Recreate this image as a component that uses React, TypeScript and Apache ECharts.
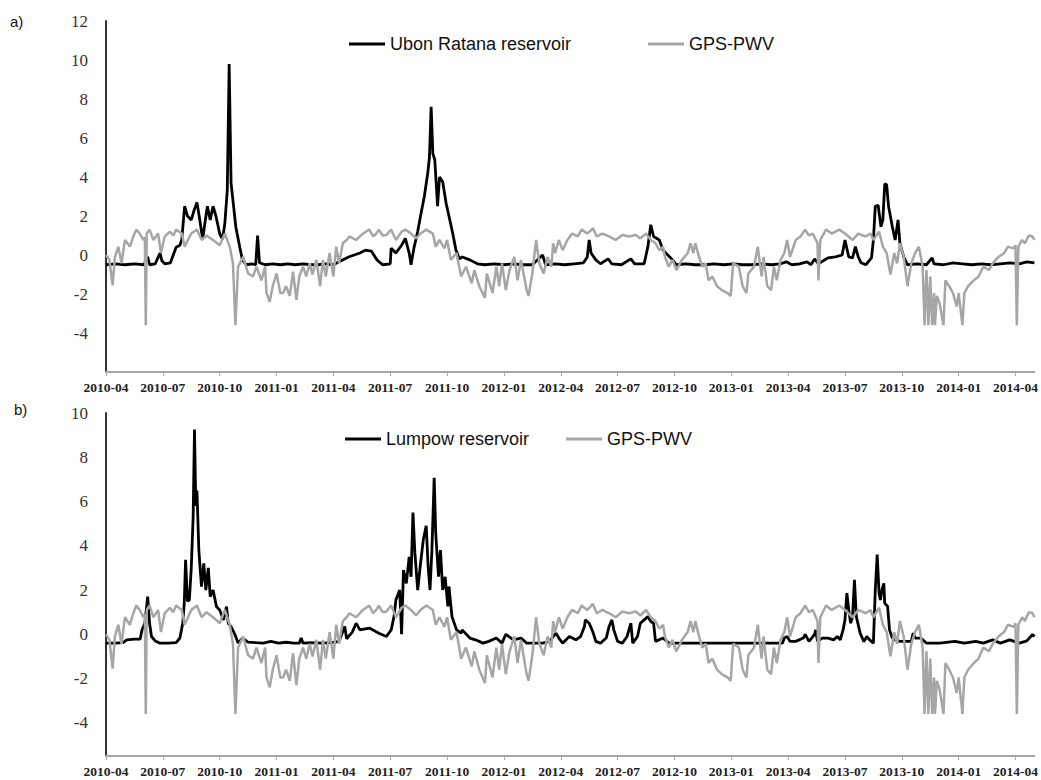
import React, { useEffect, useRef } from "react";
import * as echarts from "echarts";

// x = months since 2010-04-01
const xTicks = [0, 3, 6, 9, 12, 15, 18, 21, 24, 27, 30, 33, 36, 39, 42, 45, 48];
const yTicksA = [-4, -2, 0, 2, 4, 6, 8, 10, 12];
const yTicksB = [-4, -2, 0, 2, 4, 6, 8, 10];

const gpsPwv = [
  [0, 0], [0.18, -0.25], [0.35, -1.55], [0.47, -0.1], [0.65, 0.43], [0.82, -0.43], [1.0, 0.77], [1.26, 0.43],
  [1.44, 0.95], [1.6, 1.3], [1.78, 1.1], [1.97, 0.77], [2.05, 0.9], [2.1, -3.6], [2.15, 1.1], [2.3, 1.3],
  [2.5, 0.77], [2.75, 1.1], [2.9, 0.1], [3.1, 0.95], [3.37, 1.2], [3.55, 1.0], [3.7, 1.3], [4.0, 1.1], [4.15, 0.43],
  [4.5, 1.1], [4.8, 1.3], [5.05, 0.77], [5.3, 1.0], [5.65, 0.77], [6.0, 0.5], [6.27, 1.1], [6.53, 0.43],
  [6.7, -0.43], [6.83, -3.6], [6.97, -0.6], [7.24, -0.1], [7.5, -0.95], [7.76, -1.1], [7.94, -0.6], [8.2, -1.3],
  [8.4, -0.6], [8.47, -1.95], [8.64, -2.4], [8.8, -1.6], [9.0, -0.95], [9.2, -1.95], [9.35, -1.95], [9.5, -1.6],
  [9.7, -2.1], [9.87, -0.85], [10.05, -2.3], [10.2, -1.1], [10.4, -0.6], [10.57, -1.1], [10.75, -0.43],
  [10.9, -1.0], [11.1, -0.25], [11.3, -1.6], [11.45, -0.25], [11.6, -1.1], [11.8, 0.1], [12.0, -1.1],
  [12.15, 0.43], [12.3, -0.43], [12.5, 0.6], [12.7, 0.77], [12.85, 0.95], [13.2, 0.77], [13.56, 1.1],
  [13.9, 1.3], [14.1, 0.95], [14.26, 1.1], [14.4, 1.3], [14.6, 1.0], [14.8, 1.03], [15.05, 1.3], [15.3, 0.77],
  [15.6, 1.2], [15.8, 1.3], [16.1, 1.1], [16.37, 0.85], [16.6, 1.1], [16.9, 1.3], [17.25, 1.1], [17.4, 0.43],
  [17.6, 0.77], [17.86, 0.34], [18.0, 0.77], [18.2, -0.25], [18.5, 0.1], [18.74, -1.1], [19.0, -0.6],
  [19.3, -1.45], [19.44, -0.77], [19.7, -1.6], [20.0, -2.2], [20.1, -0.95], [20.4, -1.95], [20.6, -0.6],
  [20.75, -1.6], [20.9, -0.43], [21.1, -1.8], [21.3, -0.77], [21.55, -0.1], [21.72, -1.3], [21.9, -0.25],
  [22.2, -1.8], [22.3, -2.1], [22.5, -0.95], [22.7, 0.77], [22.87, -0.43], [23.1, -0.95], [23.3, -0.1],
  [23.5, -0.6], [23.6, 0.6], [23.7, 0.1], [23.9, 0.77], [24.1, 0.25], [24.35, 0.77], [24.6, 1.1], [24.9, 0.95],
  [25.1, 1.3], [25.4, 1.1], [25.7, 1.37], [25.9, 0.95], [26.2, 1.1], [26.55, 0.95], [26.9, 0.77], [27.25, 1.03],
  [27.6, 0.95], [27.96, 1.03], [28.2, 0.85], [28.5, 1.1], [28.75, 0.77], [29.0, 0.6], [29.2, 0.25], [29.4, 0.43],
  [29.5, -0.1], [29.7, -0.6], [29.9, -0.25], [30.1, -0.77], [30.4, -0.25], [30.7, 0.1], [30.85, 0.6], [31.0, 0.1],
  [31.1, 0.6], [31.3, -0.1], [31.47, -0.6], [31.65, -0.43], [31.8, -1.3], [32.0, -1.1], [32.25, -1.6],
  [32.5, -1.8], [32.8, -1.95], [32.97, -2.1], [33.1, -0.43], [33.4, -0.6], [33.6, -1.6], [33.8, -1.95],
  [33.9, -0.95], [34.2, -0.6], [34.4, 0.43], [34.6, -1.1], [34.7, -0.1], [34.9, -1.6], [35.1, -1.8],
  [35.25, -0.6], [35.4, -1.3], [35.6, -0.25], [35.8, 0.1], [35.95, 0.77], [36.1, -0.1], [36.4, 0.77],
  [36.65, 0.95], [36.9, 1.3], [37.1, 1.0], [37.3, 1.1], [37.55, 0.6], [37.6, -1.3], [37.7, 0.77], [38.0, 1.3],
  [38.3, 1.1], [38.7, 1.3], [39.0, 1.1], [39.4, 0.77], [39.7, 1.1], [40.1, 0.95], [40.35, 1.1], [40.5, 0.77],
  [40.8, 1.2], [41.0, 0.43], [41.2, 0.1], [41.4, -1.0], [41.6, 0.1], [41.75, -0.43], [41.9, 0.6], [42.1, -0.1],
  [42.3, -1.6], [42.5, -0.43], [42.7, 0.1], [42.9, 0.43], [43.1, -0.6], [43.2, -3.6], [43.3, -0.77],
  [43.4, -3.6], [43.5, -1.1], [43.6, -3.6], [43.7, -1.95], [43.75, -3.6], [43.85, -2.1], [44.0, -2.5],
  [44.2, -3.6], [44.3, -1.3], [44.5, -1.6], [44.7, -1.95], [44.9, -2.65], [45.0, -1.95], [45.2, -3.6],
  [45.3, -1.95], [45.5, -1.6], [45.8, -1.3], [46.05, -1.1], [46.3, -0.6], [46.6, -0.77], [46.8, -0.43],
  [47.1, -0.1], [47.4, 0.1], [47.6, 0.43], [47.9, 0.34], [48.0, 0.5], [48.07, -3.6], [48.15, 0.43],
  [48.35, 0.77], [48.5, 0.6], [48.7, 1.0], [48.9, 0.95], [49.0, 0.77],
];

const ubonRatana = [
  [0, -0.5], [0.5, -0.45], [1.0, -0.5], [1.5, -0.45], [2.0, -0.5], [2.2, -0.1], [2.3, -0.5], [2.6, -0.45],
  [2.85, 0.1], [2.95, -0.3], [3.1, -0.45], [3.4, -0.4], [3.7, 0.4], [3.9, 0.5], [4.0, 0.8], [4.15, 2.5],
  [4.3, 2.0], [4.5, 1.8], [4.65, 2.3], [4.8, 2.7], [4.95, 1.8], [5.1, 0.8], [5.2, 1.5], [5.35, 2.5], [5.5, 1.8],
  [5.65, 2.5], [5.8, 2.0], [6.0, 1.1], [6.15, 0.8], [6.27, 1.6], [6.4, 3.3], [6.5, 9.8], [6.6, 3.7], [6.7, 2.8],
  [6.85, 1.45], [7.06, 0.4], [7.2, -0.25], [7.4, -0.5], [7.7, -0.45], [7.9, -0.5], [8.0, 1.0], [8.1, -0.4],
  [8.4, -0.5], [8.8, -0.45], [9.2, -0.5], [9.6, -0.45], [10.0, -0.5], [10.4, -0.45], [10.8, -0.5], [11.2, -0.5],
  [11.6, -0.45], [12.0, -0.5], [12.3, -0.35], [12.8, -0.1], [13.4, 0.1], [13.7, 0.25], [14.0, 0.2],
  [14.3, -0.25], [14.6, -0.5], [15.0, -0.45], [15.05, 0.35], [15.3, 0.1], [15.6, 0.5], [15.8, 0.85], [16.0, 0.1],
  [16.1, -0.5], [16.25, 0.35], [16.45, 1.2], [16.6, 2.0], [16.8, 3.0], [16.98, 4.2], [17.07, 5.0], [17.16, 7.6],
  [17.25, 5.2], [17.35, 4.9], [17.5, 2.5], [17.6, 4.0], [17.77, 3.75], [17.95, 2.65], [18.1, 2.0], [18.3, 1.1],
  [18.47, 0.25], [18.65, -0.2], [18.8, -0.1], [19.2, -0.25], [19.6, -0.45], [20.0, -0.5], [20.5, -0.45],
  [21.0, -0.5], [21.5, -0.45], [22.0, -0.5], [22.5, -0.5], [23.04, 0.0], [23.2, -0.5], [23.7, -0.45],
  [24.2, -0.5], [24.7, -0.45], [25.2, -0.4], [25.4, -0.1], [25.5, 0.77], [25.6, 0.1], [25.85, -0.25],
  [26.1, -0.45], [26.5, -0.2], [26.7, -0.45], [27.2, -0.5], [27.7, -0.2], [27.9, -0.45], [28.4, -0.45],
  [28.6, 0.43], [28.75, 1.55], [28.9, 0.95], [29.2, 0.77], [29.4, 0.25], [29.9, -0.25], [30.1, -0.5],
  [30.6, -0.45], [31.1, -0.5], [31.6, -0.5], [32.1, -0.45], [32.6, -0.5], [33.1, -0.45], [33.6, -0.5],
  [34.1, -0.5], [34.6, -0.45], [35.1, -0.5], [35.6, -0.45], [35.9, -0.35], [36.2, -0.5], [36.6, -0.45],
  [37.0, -0.35], [37.2, -0.5], [37.4, -0.2], [37.6, -0.45], [38.1, -0.15], [38.5, -0.1], [38.85, 0.0],
  [39.0, 0.77], [39.2, -0.1], [39.4, -0.15], [39.55, 0.43], [39.7, -0.1], [39.85, -0.4], [40.1, -0.5],
  [40.4, -0.15], [40.5, 0.77], [40.6, 2.5], [40.75, 2.55], [40.9, 1.45], [41.0, 1.8], [41.1, 3.65], [41.2, 3.6],
  [41.3, 2.5], [41.5, 1.45], [41.65, 0.77], [41.8, 1.8], [41.9, 0.6], [42.1, -0.1], [42.3, -0.5], [42.8, -0.45],
  [43.3, -0.5], [43.6, -0.15], [43.7, -0.45], [44.2, -0.5], [44.7, -0.4], [45.2, -0.45], [45.7, -0.5],
  [46.2, -0.45], [46.7, -0.5], [47.2, -0.45], [47.7, -0.4], [48.2, -0.45], [48.6, -0.35], [49.0, -0.4],
];

const lumpow = [
  [0, -0.4], [0.5, -0.4], [0.9, -0.38], [1.1, -0.25], [1.5, -0.22], [1.8, -0.22], [1.9, 0.2], [2.05, 0.5],
  [2.2, 1.7], [2.3, 0.5], [2.4, -0.1], [2.6, -0.3], [2.85, -0.4], [3.3, -0.4], [3.7, -0.38], [3.9, -0.17],
  [4.05, 0.5], [4.13, 1.4], [4.2, 3.37], [4.3, 1.5], [4.4, 1.55], [4.5, 3.0], [4.6, 5.3], [4.67, 9.25],
  [4.74, 5.8], [4.8, 6.5], [4.9, 3.8], [5.04, 2.15], [5.16, 3.2], [5.27, 2.0], [5.4, 3.0], [5.5, 1.7],
  [5.65, 2.0], [5.83, 1.25], [6.0, 1.1], [6.2, 0.65], [6.36, 1.25], [6.45, 0.5], [6.6, 0.35], [6.8, 0.0],
  [6.97, -0.4], [7.2, -0.17], [7.5, -0.35], [7.9, -0.38], [8.3, -0.4], [8.7, -0.32], [9.1, -0.4], [9.5, -0.36],
  [9.9, -0.4], [10.2, -0.4], [10.3, -0.17], [10.4, -0.4], [10.9, -0.38], [11.4, -0.4], [11.9, -0.38],
  [12.3, -0.32], [12.6, 0.35], [12.7, -0.2], [13.0, 0.1], [13.2, 0.5], [13.4, 0.2], [13.9, 0.28], [14.4, 0.05],
  [14.8, -0.1], [15.05, 0.2], [15.2, 0.8], [15.3, 1.55], [15.5, 2.0], [15.6, 0.0], [15.7, 2.9], [15.85, 2.3],
  [16.0, 3.5], [16.1, 2.6], [16.2, 5.5], [16.3, 3.7], [16.45, 2.0], [16.6, 3.2], [16.75, 4.3], [16.9, 4.9],
  [17.0, 3.07], [17.1, 2.0], [17.2, 3.8], [17.32, 7.07], [17.4, 4.6], [17.55, 2.6], [17.65, 3.8], [17.77, 2.0],
  [17.9, 2.6], [18.04, 1.26], [18.1, 2.16], [18.26, 0.8], [18.5, 0.2], [18.74, 0.05], [18.8, 0.2],
  [19.2, -0.17], [19.5, -0.25], [19.9, -0.4], [20.2, -0.32], [20.6, -0.17], [20.9, -0.4], [21.1, 0.0],
  [21.5, -0.25], [21.9, -0.17], [22.2, -0.4], [22.7, -0.4], [23.04, -0.4], [23.4, -0.32], [23.75, 0.05],
  [23.9, -0.17], [24.1, -0.4], [24.45, -0.1], [24.8, -0.25], [25.05, -0.1], [25.25, 0.35], [25.3, 0.65],
  [25.5, 0.5], [25.7, 0.1], [25.85, -0.32], [26.1, -0.4], [26.4, -0.17], [26.55, 0.35], [26.7, 0.65],
  [26.8, 0.2], [27.0, -0.32], [27.25, -0.4], [27.5, -0.1], [27.7, 0.5], [27.8, -0.4], [28.05, -0.1],
  [28.2, 0.5], [28.4, 0.65], [28.6, 0.8], [28.75, 0.58], [28.9, 0.5], [29.0, -0.32], [29.4, -0.17],
  [29.7, -0.4], [30.5, -0.4], [31.5, -0.4], [32.5, -0.4], [33.5, -0.4], [34.5, -0.4], [35.7, -0.4],
  [35.8, -0.17], [35.95, -0.1], [36.1, -0.32], [36.4, -0.32], [36.8, -0.17], [36.9, 0.0], [37.1, -0.32],
  [37.4, 0.0], [37.45, 0.2], [37.55, -0.32], [37.8, -0.17], [38.1, -0.17], [38.4, -0.25], [38.6, -0.1],
  [38.75, -0.25], [38.9, 0.2], [39.0, 0.65], [39.1, 1.86], [39.2, 1.1], [39.3, 0.5], [39.4, 0.8], [39.5, 2.46],
  [39.6, 0.8], [39.8, 0.05], [40.0, -0.33], [40.15, -0.1], [40.3, -0.25], [40.5, -0.4], [40.6, 2.0],
  [40.7, 3.6], [40.8, 1.86], [40.87, 1.55], [40.95, 2.0], [41.05, 2.3], [41.1, 1.4], [41.25, 1.26],
  [41.35, 0.2], [41.5, -0.17], [41.65, -0.25], [41.9, -0.32], [42.5, -0.32], [42.6, 0.05], [42.7, -0.17],
  [43.0, -0.17], [43.3, -0.4], [44.0, -0.4], [44.8, -0.32], [45.3, -0.4], [45.9, -0.32], [46.3, -0.4],
  [46.8, -0.25], [47.2, -0.4], [47.7, -0.25], [48.2, -0.4], [48.6, -0.3], [48.9, 0.0], [49.0, -0.1],
];

const SERIF = "'Liberation Serif', 'Times New Roman', serif";
const SANS = "'Liberation Sans', Arial, sans-serif";

function monthLabel(v: number): string {
  const total = 3 + Math.round(v);
  const year = 2010 + Math.floor(total / 12);
  const month = (total % 12) + 1;
  return `${year}-${month < 10 ? "0" + month : month}`;
}

function makeXAxis(gridIndex: number) {
  return {
    type: "value",
    gridIndex,
    min: 0,
    max: 49,
    axisLine: { show: true, onZero: false, lineStyle: { color: "#a8a8a8", width: 2 } },
    axisTick: { show: true, customValues: xTicks, length: 4, lineStyle: { color: "#a8a8a8", width: 1 } },
    axisLabel: {
      customValues: xTicks,
      formatter: (v: number) => monthLabel(v),
      fontFamily: SERIF,
      fontWeight: "bold",
      fontSize: 13.5,
      color: "#222",
      margin: 8,
    },
    splitLine: { show: false },
  };
}

function makeYAxis(gridIndex: number, min: number, max: number, ticks: number[]) {
  return {
    type: "value",
    gridIndex,
    min,
    max,
    axisLine: { show: true, onZero: false, lineStyle: { color: "#333", width: 2 } },
    axisTick: { show: false },
    axisLabel: {
      customValues: ticks,
      fontFamily: SERIF,
      fontSize: 17,
      color: "#333",
      margin: 18,
    },
    splitLine: { show: false },
  };
}

function makeLegend(name: string, left: number, top: number) {
  return {
    data: [name],
    left,
    top,
    padding: 0,
    icon: "rect",
    itemWidth: 36,
    itemHeight: 3,
    selectedMode: false,
    textStyle: { fontFamily: SANS, fontSize: 18, color: "#111" },
  };
}

export default function App() {
  const ref = useRef<HTMLDivElement>(null);

  useEffect(() => {
    if (!ref.current) return;
    const chart = echarts.init(ref.current, null, { renderer: "svg" });
    const black = { color: "#000", width: 2.8 };
    const grey = { color: "#a6a6a6", width: 2.5 };
    chart.setOption({
      animation: false,
      backgroundColor: "#fff",
      grid: [
        { left: 106, top: 21, right: 6, height: 351 },
        { left: 106, top: 413, right: 6, height: 343 },
      ],
      xAxis: [makeXAxis(0), makeXAxis(1)],
      yAxis: [makeYAxis(0, -6, 12, yTicksA), makeYAxis(1, -5.5, 10, yTicksB)],
      legend: [
        makeLegend("Ubon Ratana reservoir", 349, 35),
        makeLegend("GPS-PWV", 648, 35),
        makeLegend("Lumpow reservoir", 345, 430),
        makeLegend("GPS-PWV", 566, 430),
      ],
      graphic: [
        { type: "text", left: 10, top: 14, style: { text: "a)", fontFamily: SANS, fontSize: 15, fill: "#111" } },
        { type: "text", left: 14, top: 402, style: { text: "b)", fontFamily: SANS, fontSize: 15, fill: "#111" } },
      ],
      series: [
        {
          type: "line", name: "Ubon Ratana reservoir", xAxisIndex: 0, yAxisIndex: 0, data: ubonRatana,
          showSymbol: false, symbol: "none", lineStyle: black, itemStyle: { color: "#000" }, silent: true,
        },
        {
          type: "line", name: "GPS-PWV", xAxisIndex: 0, yAxisIndex: 0, data: gpsPwv,
          showSymbol: false, symbol: "none", lineStyle: grey, itemStyle: { color: "#a6a6a6" }, silent: true,
        },
        {
          type: "line", name: "Lumpow reservoir", xAxisIndex: 1, yAxisIndex: 1, data: lumpow,
          showSymbol: false, symbol: "none", lineStyle: black, itemStyle: { color: "#000" }, silent: true,
        },
        {
          type: "line", name: "GPS-PWV", xAxisIndex: 1, yAxisIndex: 1, data: gpsPwv,
          showSymbol: false, symbol: "none", lineStyle: grey, itemStyle: { color: "#a6a6a6" }, silent: true,
        },
      ],
    });
    return () => chart.dispose();
  }, []);

  return (
    <div
      ref={ref}
      style={{ position: "fixed", left: 0, top: 0, width: 1041, height: 780, background: "#fff" }}
    />
  );
}
